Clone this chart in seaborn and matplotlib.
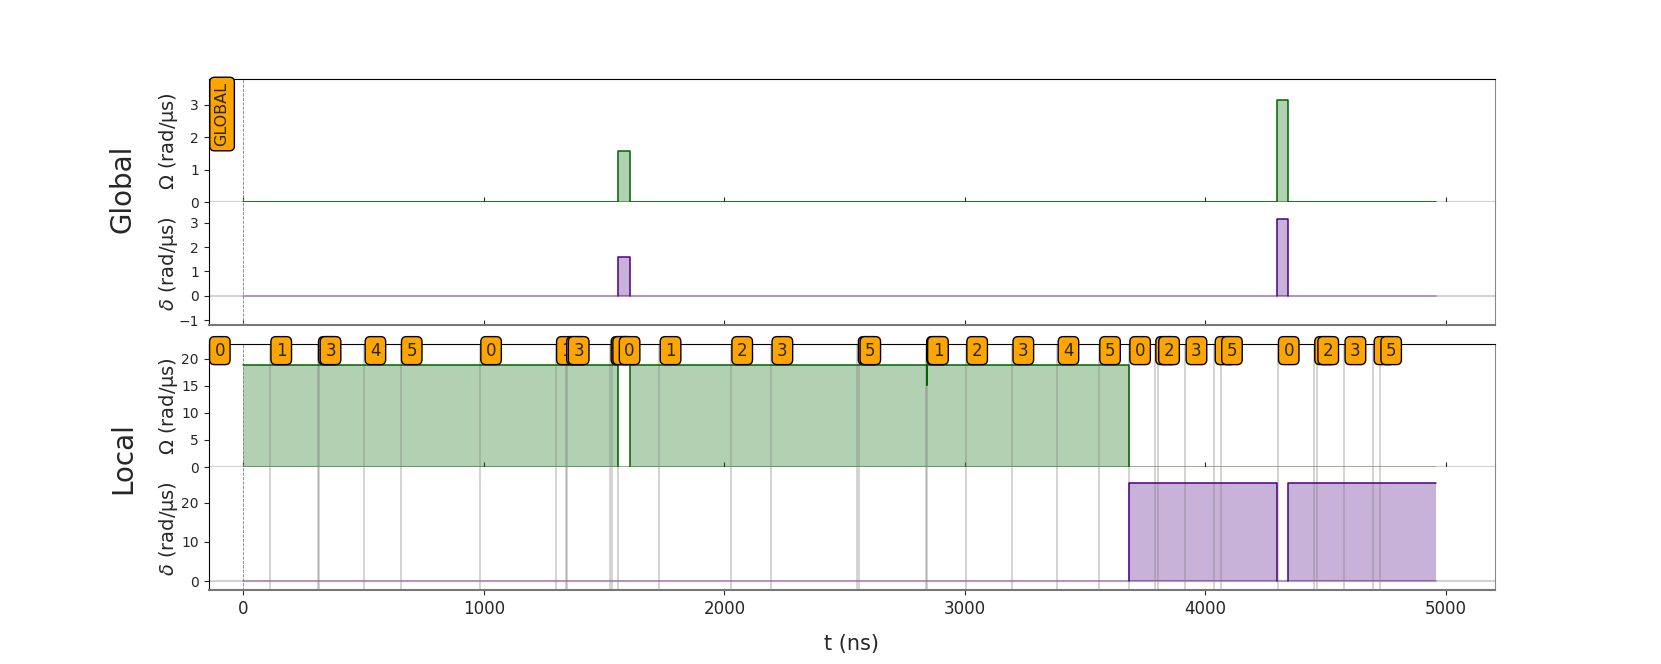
import numpy as np
import pandas as pd
import matplotlib
matplotlib.use("Agg")
import matplotlib.pyplot as plt
import seaborn as sns

# ---------------- data ----------------
T_TOTAL = 4960
X_LIMITS = (-145, 5204)
X_TICKS = [0, 1000, 2000, 3000, 4000, 5000]

# Global channel waveforms (breakpoints of the step waveforms, segment ids)
glob_omega_t = [0, 1558, 1558, 1608, 1608, 4298, 4298, 4344, 4344, 4960]
glob_omega_v = [0, 0, 1.571, 1.571, 0, 0, 3.142, 3.142, 0, 0]
glob_omega_seg = [0, 0, 0, 0, 0, 0, 0, 0, 0, 0]

glob_delta_t = [1558, 1558, 1608, 1608, 4298, 4298, 4344, 4344]
glob_delta_v = [0, 1.571, 1.571, 0, 0, 3.142, 3.142, 0]
glob_delta_seg = [0, 0, 0, 0, 1, 1, 1, 1]

# Local channel waveforms
loc_omega_t = [0, 1558, 1558, 1608, 1608, 2841, 2841, 2841, 3682, 3682]
loc_omega_v = [18.85, 18.85, 0, 0, 18.85, 18.85, 15.2, 18.85, 18.85, 0]
loc_omega_seg = [0, 0, 0, 1, 1, 1, 1, 1, 1, 1]

loc_delta_t = [3682, 3682, 4298, 4298, 4344, 4344, 4960]
loc_delta_v = [0, 25.13, 25.13, 0, 0, 25.13, 25.13]
loc_delta_seg = [0, 0, 0, 0, 1, 1, 1]

# Local target changes (first one is the initial target)
local_target_t = [0, 110, 308, 315, 502, 653,
                  983, 1298, 1340, 1347, 1525, 1532,
                  1559, 1729, 2027, 2194, 2553, 2560,
                  2837, 2841, 3004, 3196, 3384, 3557,
                  3682, 3790, 3802, 3916, 4037, 4064,
                  4300, 4451, 4464, 4577, 4698, 4726]
local_target_lbl = ["0", "1", "2", "3", "4", "5"] * 6

channel_names = ["Global", "Local"]
ylims = {"Global": [(0, 3.77), (-1.2, 3.83)], "Local": [(0, 22.62), (-2.3, 29.1)]}
yticks = {"Global": [[0, 1, 2, 3], [-1, 0, 1, 2, 3]],
          "Local": [[0, 5, 10, 15, 20], [0, 10, 20]]}
label_y = {"Global": 3.69, "Local": 21.45}

# ---------------- style ----------------
sns.set_style("ticks")
plt.rcParams["font.family"] = ["DejaVu Sans"]
plt.rcParams["axes.edgecolor"] = "black"

OMEGA_C = "darkgreen"
DELTA_C = "indigo"
box = dict(boxstyle="round", facecolor="orange", edgecolor="black", linewidth=1.0)

fig = plt.figure(figsize=(16.61, 6.64), dpi=100)
gs = fig.add_gridspec(2, 1, hspace=0.0777, left=0.1256, right=0.9,
                      top=0.8804, bottom=0.1114)

waves = {
    "Global": [(glob_omega_t, glob_omega_v, glob_omega_seg),
               (glob_delta_t, glob_delta_v, glob_delta_seg)],
    "Local": [(loc_omega_t, loc_omega_v, loc_omega_seg),
              (loc_delta_t, loc_delta_v, loc_delta_seg)],
}

for i, ch in enumerate(channel_names):
    sub = gs[i].subgridspec(2, 1, hspace=0.0)
    axes = [fig.add_subplot(sub[0]), fig.add_subplot(sub[1])]
    for j, ax in enumerate(axes):
        color = OMEGA_C if j == 0 else DELTA_C
        t, v, seg = waves[ch][j]
        df = pd.DataFrame({"t": t, "v": v, "seg": seg})
        ax.axhline(0, color="#d3d3d3", lw=1.6, zorder=0.5)
        ax.plot([0, T_TOTAL], [0, 0], color=color, alpha=0.3, lw=1.3, zorder=1)
        for s, g in df.groupby("seg"):
            ax.fill_between(g["t"].to_numpy(), 0, g["v"].to_numpy(),
                            color=color, alpha=0.3, lw=0, zorder=1)
        sns.lineplot(data=df, x="t", y="v", units="seg", estimator=None,
                     sort=False, color=color, lw=1.1, ax=ax, zorder=3)
        ax.axvline(0, ls="--", lw=0.6, color="grey", zorder=1.5)
        if ch == "Local":
            for tt in local_target_t[1:]:
                ax.axvline(tt, color="grey", alpha=0.4, lw=1.2, zorder=1.2)
        ax.set_xlim(*X_LIMITS)
        ax.set_ylim(*ylims[ch][j])
        ax.set_yticks(yticks[ch][j])
        ax.set_xticks(X_TICKS)
        ax.tick_params(axis="y", labelsize=10)
        ax.set_ylabel(r"$\Omega$ (rad/µs)" if j == 0 else r"$\delta$ (rad/µs)",
                      fontsize=14)
        ax.yaxis.set_label_coords(-0.022, 0.5)
        ax.spines["right"].set_color("#888888")
        if j == 0:
            ax.spines["bottom"].set_visible(False)
            ax.tick_params(axis="x", bottom=True, labelbottom=False, direction="in")
            ax.set_xlabel("")
        else:
            ax.spines["top"].set_visible(False)
            ax.spines["bottom"].set_color("#777777")
            ax.spines["bottom"].set_linewidth(1.5)
            if i == 0:
                ax.tick_params(axis="x", bottom=True, labelbottom=False, direction="in")
                ax.set_xlabel("")
            else:
                ax.tick_params(axis="x", labelsize=12)
                ax.set_xlabel("t (ns)", fontsize=15, labelpad=12)

    # target labels
    x0 = X_LIMITS[0] + T_TOTAL * 0.005
    if ch == "Global":
        axes[0].text(x0, label_y[ch], "GLOBAL", fontsize=11.5, rotation=90,
                     ha="left", va="top", bbox=box, zorder=5)
    else:
        for k, (tt, lb) in enumerate(zip(local_target_t, local_target_lbl)):
            xx = x0 if k == 0 else tt + T_TOTAL * 0.005
            axes[0].text(xx, label_y[ch], lb, fontsize=12, ha="left", va="center",
                         bbox=box, zorder=5, clip_on=False)

fig.text(123 / 1661, 1 - 189 / 664, "Global", rotation=90, fontsize=20,
         ha="center", va="center")
fig.text(123 / 1661, 1 - 458 / 664, "Local", rotation=90, fontsize=20,
         ha="center", va="center")

fig.savefig("out.png", dpi=100)
